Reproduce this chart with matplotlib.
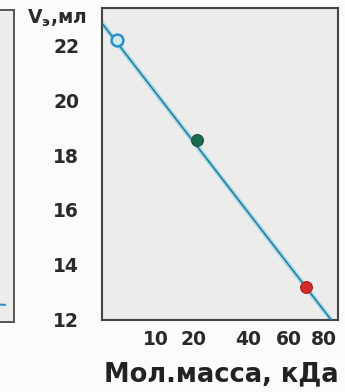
import numpy as np
import matplotlib
matplotlib.use("Agg")
import matplotlib.pyplot as plt

# Data
point_mass = [3.3, 20.9, 69.6]          # kDa
point_ve = [22.2, 18.55, 13.19]         # ml
point_face = ["#cfe9f6", "#1e6a4c", "#d42a2a"]
point_edge = ["#2a8fc8", "#184f3a", "#b01d1d"]

line_mass = [1.44, 90.25]
line_ve = [22.95, 11.58]

x_ticks = [10, 20, 40, 60, 80]
y_ticks = [12, 14, 16, 18, 20, 22]

left_x = [0.5, 0.89]
left_y = [0.06, 0.055]

plt.rcParams['font.family'] = ['DejaVu Sans']

fig = plt.figure(figsize=(3.45, 3.92), dpi=100)
fig.patch.set_facecolor("#fbfbfb")

W, H = 345.0, 392.0
# left partial panel
ax0 = fig.add_axes([-69 / W, 1 - 322 / H, 83 / W, 312 / H])
ax0.set_facecolor("#ececeb")
ax0.plot(left_x, left_y, color="#2a8fc8", lw=1.5)
ax0.set_xlim(0, 1)
ax0.set_ylim(0, 1)
ax0.set_xticks([])
ax0.set_yticks([])
for s in ax0.spines.values():
    s.set_color("#555555")
    s.set_linewidth(1.4)

# main panel
ax = fig.add_axes([102 / W, 1 - 319.5 / H, 236 / W, 311.5 / H])
ax.set_facecolor("#ececeb")
ax.set_xscale('function', functions=(np.sqrt, np.square))
ax.set_xlim(1.69, 89.1)
ax.set_ylim(12, 23.37)

ax.plot(line_mass, line_ve, color="#a8dcef", lw=3.5, solid_capstyle='butt', zorder=2)
ax.plot(line_mass, line_ve, color="#2c7d96", lw=1.2, zorder=3)
for m, v, fc, ec in zip(point_mass, point_ve, point_face, point_edge):
    ax.plot([m], [v], marker='o', markersize=8.5, markerfacecolor=fc,
            markeredgecolor=ec, markeredgewidth=1.8 if fc == "#cfe9f6" else 0.8,
            linestyle='none', zorder=4)

ax.set_xticks(x_ticks)
ax.set_xticklabels([str(t) for t in x_ticks])
ax.set_yticks(y_ticks)
ax.set_yticklabels([str(t) for t in y_ticks])
ax.xaxis.set_minor_locator(matplotlib.ticker.NullLocator())
ax.tick_params(axis='both', length=0, labelsize=13.5, colors="#2a2a2a")
ax.tick_params(axis='y', pad=16.5)
ax.tick_params(axis='x', pad=7.5)
for lab in ax.get_xticklabels() + ax.get_yticklabels():
    lab.set_fontweight('bold')

for s in ax.spines.values():
    s.set_color("#444444")
    s.set_linewidth(1.5)

fig.text(56.5 / W, 1 - 24 / H, "V$_{\\mathregular{э}}$,мл", ha='center', va='baseline',
         fontsize=13.5, color="#2a2a2a", fontweight='bold')
fig.text(221 / W, 1 - 381 / H, "Мол.масса, кДа", ha='center', va='baseline',
         fontsize=18.5, color="#222222", fontweight='bold')

fig.savefig("out.png", dpi=100, facecolor=fig.get_facecolor())
